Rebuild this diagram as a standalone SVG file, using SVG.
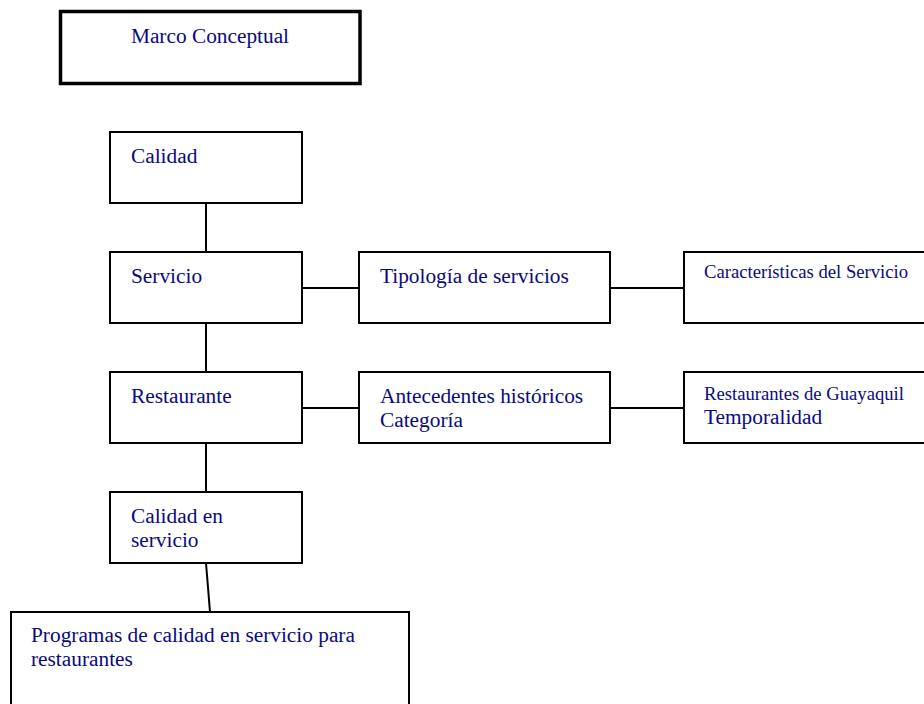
<svg xmlns="http://www.w3.org/2000/svg" width="924" height="704" viewBox="0 0 924 704">
  <style>
    .box { fill: #ffffff; stroke: #000000; stroke-width: 2; }
    .title { fill: #ffffff; stroke: #000000; stroke-width: 3.5; }
    .lbl { font-family: "Liberation Serif", "Times New Roman", serif; font-size: 21.33px; fill: #0a0a80; }
    .sm { font-size: 18.67px; }
    .conn { stroke: #000000; stroke-width: 2; fill: none; }
  </style>
  <rect width="924" height="704" fill="#ffffff"/>

  <!-- connectors -->
  <g id="connectors">
    <line class="conn" x1="206" y1="203" x2="206" y2="252"/>
    <line class="conn" x1="206" y1="323" x2="206" y2="372"/>
    <line class="conn" x1="206" y1="443" x2="206" y2="492"/>
    <line class="conn" x1="206" y1="563" x2="210" y2="612"/>
    <line class="conn" x1="302" y1="288" x2="359" y2="288"/>
    <line class="conn" x1="610" y1="288" x2="684" y2="288"/>
    <line class="conn" x1="302" y1="408" x2="359" y2="408"/>
    <line class="conn" x1="610" y1="408" x2="684" y2="408"/>
  </g>

  <g id="marco">
    <rect class="title" x="60.5" y="11.5" width="299.5" height="72"/>
    <text class="lbl" x="210" y="43" text-anchor="middle">Marco Conceptual</text>
  </g>

  <g id="calidad">
    <rect class="box" x="110" y="132" width="192" height="71"/>
    <text class="lbl" x="131" y="163">Calidad</text>
  </g>

  <g id="servicio">
    <rect class="box" x="110" y="252" width="192" height="71"/>
    <text class="lbl" x="131" y="283">Servicio</text>
  </g>

  <g id="tipologia">
    <rect class="box" x="359" y="252" width="251" height="71"/>
    <text class="lbl" x="380" y="283">Tipología de servicios</text>
  </g>

  <g id="caracteristicas">
    <rect class="box" x="684" y="252" width="250" height="71"/>
    <text class="lbl sm" x="704" y="278">Características del Servicio</text>
  </g>

  <g id="restaurante">
    <rect class="box" x="110" y="372" width="192" height="71"/>
    <text class="lbl" x="131" y="403">Restaurante</text>
  </g>

  <g id="antecedentes">
    <rect class="box" x="359" y="372" width="251" height="71"/>
    <text class="lbl" x="380" y="403">Antecedentes históricos</text>
    <text class="lbl" x="380" y="427">Categoría</text>
  </g>

  <g id="guayaquil">
    <rect class="box" x="684" y="372" width="250" height="71"/>
    <text class="lbl sm" x="704" y="400">Restaurantes de Guayaquil</text>
    <text class="lbl" x="704" y="424">Temporalidad</text>
  </g>

  <g id="calidad-servicio">
    <rect class="box" x="110" y="492" width="192" height="71"/>
    <text class="lbl" x="131" y="523">Calidad en</text>
    <text class="lbl" x="131" y="547">servicio</text>
  </g>

  <g id="programas">
    <rect class="box" x="11" y="612" width="398" height="110"/>
    <text class="lbl" x="31" y="642">Programas de calidad en servicio para</text>
    <text class="lbl" x="31" y="666">restaurantes</text>
  </g>
</svg>
